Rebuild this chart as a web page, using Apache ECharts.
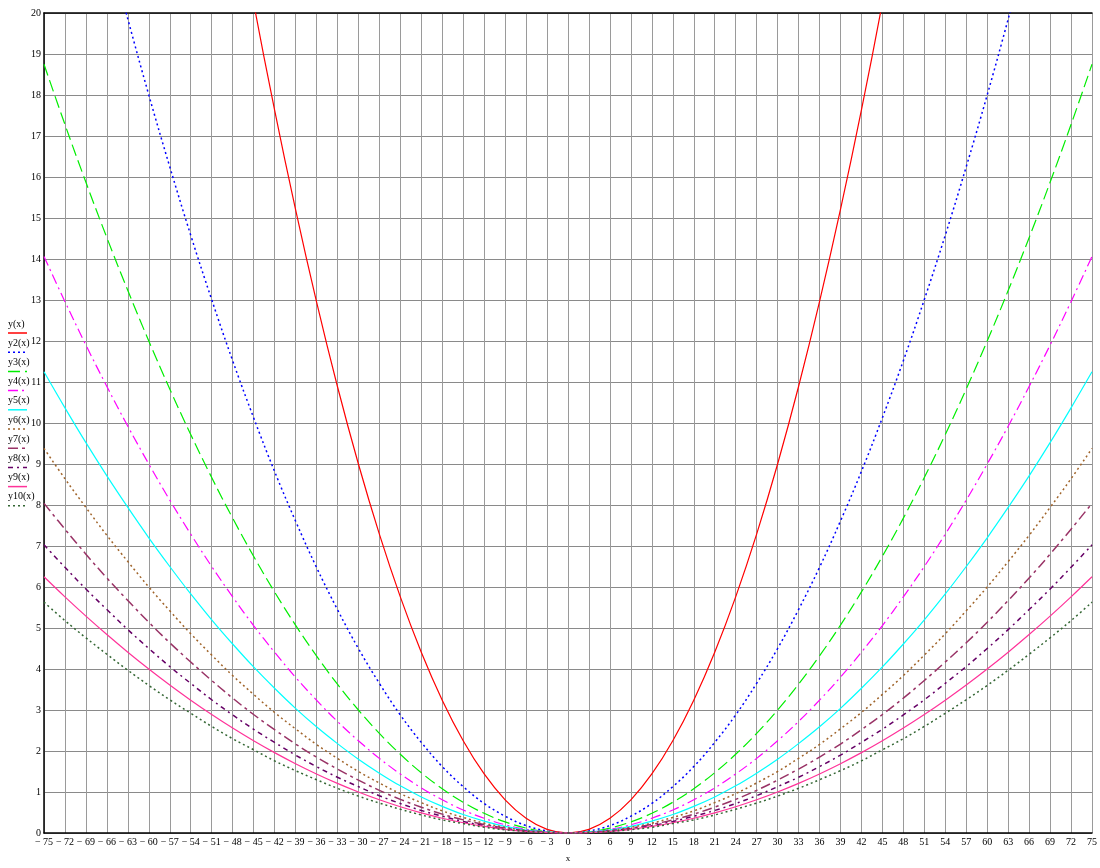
<!DOCTYPE html>
<html>
<head>
<meta charset="utf-8">
<script src="https://cdn.jsdelivr.net/npm/echarts@6/dist/echarts.min.js"></script>
<style>html,body{margin:0;padding:0;background:#fff;overflow:hidden}#c{width:1100px;height:868px}</style>
</head>
<body>
<div id="c"></div>
<script>
// sample x positions (every 3 units)
var xs = [-75,-72,-69,-66,-63,-60,-57,-54,-51,-48,-45,-42,-39,-36,-33,-30,-27,-24,-21,-18,-15,-12,-9,-6,-3,0,3,6,9,12,15,18,21,24,27,30,33,36,39,42,45,48,51,54,57,60,63,66,69,72,75];
var names = ['y(x)','y2(x)','y3(x)','y4(x)','y5(x)','y6(x)','y7(x)','y8(x)','y9(x)','y10(x)'];
var y1  = [null,null,null,null,null,null,null,null,null,23.04,20.25,17.64,15.21,12.96,10.89,9,7.29,5.76,4.41,3.24,2.25,1.44,0.81,0.36,0.09,0,0.09,0.36,0.81,1.44,2.25,3.24,4.41,5.76,7.29,9,10.89,12.96,15.21,17.64,20.25,23.04,null,null,null,null,null,null,null,null,null];
var y2  = [null,null,null,21.78,19.85,18,16.25,14.58,13.01,11.52,10.13,8.82,7.61,6.48,5.45,4.5,3.65,2.88,2.21,1.62,1.13,0.72,0.41,0.18,0.05,0,0.05,0.18,0.41,0.72,1.13,1.62,2.21,2.88,3.65,4.5,5.45,6.48,7.61,8.82,10.13,11.52,13.01,14.58,16.25,18,19.85,21.78,null,null,null];
var y3  = [18.75,17.28,15.87,14.52,13.23,12,10.83,9.72,8.67,7.68,6.75,5.88,5.07,4.32,3.63,3,2.43,1.92,1.47,1.08,0.75,0.48,0.27,0.12,0.03,0,0.03,0.12,0.27,0.48,0.75,1.08,1.47,1.92,2.43,3,3.63,4.32,5.07,5.88,6.75,7.68,8.67,9.72,10.83,12,13.23,14.52,15.87,17.28,18.75];
var y4  = [14.06,12.96,11.9,10.89,9.92,9,8.12,7.29,6.5,5.76,5.06,4.41,3.8,3.24,2.72,2.25,1.82,1.44,1.1,0.81,0.56,0.36,0.2,0.09,0.02,0,0.02,0.09,0.2,0.36,0.56,0.81,1.1,1.44,1.82,2.25,2.72,3.24,3.8,4.41,5.06,5.76,6.5,7.29,8.12,9,9.92,10.89,11.9,12.96,14.06];
var y5  = [11.25,10.37,9.52,8.71,7.94,7.2,6.5,5.83,5.2,4.61,4.05,3.53,3.04,2.59,2.18,1.8,1.46,1.15,0.88,0.65,0.45,0.29,0.16,0.07,0.02,0,0.02,0.07,0.16,0.29,0.45,0.65,0.88,1.15,1.46,1.8,2.18,2.59,3.04,3.53,4.05,4.61,5.2,5.83,6.5,7.2,7.94,8.71,9.52,10.37,11.25];
var y6  = [9.38,8.64,7.94,7.26,6.62,6,5.42,4.86,4.34,3.84,3.38,2.94,2.54,2.16,1.82,1.5,1.22,0.96,0.74,0.54,0.38,0.24,0.14,0.06,0.02,0,0.02,0.06,0.14,0.24,0.38,0.54,0.74,0.96,1.22,1.5,1.82,2.16,2.54,2.94,3.38,3.84,4.34,4.86,5.42,6,6.62,7.26,7.94,8.64,9.38];
var y7  = [8.04,7.41,6.8,6.22,5.67,5.14,4.64,4.17,3.72,3.29,2.89,2.52,2.17,1.85,1.56,1.29,1.04,0.82,0.63,0.46,0.32,0.21,0.12,0.05,0.01,0,0.01,0.05,0.12,0.21,0.32,0.46,0.63,0.82,1.04,1.29,1.56,1.85,2.17,2.52,2.89,3.29,3.72,4.17,4.64,5.14,5.67,6.22,6.8,7.41,8.04];
var y8  = [7.03,6.48,5.95,5.45,4.96,4.5,4.06,3.65,3.25,2.88,2.53,2.21,1.9,1.62,1.36,1.13,0.91,0.72,0.55,0.41,0.28,0.18,0.1,0.05,0.01,0,0.01,0.05,0.1,0.18,0.28,0.41,0.55,0.72,0.91,1.13,1.36,1.62,1.9,2.21,2.53,2.88,3.25,3.65,4.06,4.5,4.96,5.45,5.95,6.48,7.03];
var y9  = [6.25,5.76,5.29,4.84,4.41,4,3.61,3.24,2.89,2.56,2.25,1.96,1.69,1.44,1.21,1,0.81,0.64,0.49,0.36,0.25,0.16,0.09,0.04,0.01,0,0.01,0.04,0.09,0.16,0.25,0.36,0.49,0.64,0.81,1,1.21,1.44,1.69,1.96,2.25,2.56,2.89,3.24,3.61,4,4.41,4.84,5.29,5.76,6.25];
var y10 = [5.63,5.18,4.76,4.36,3.97,3.6,3.25,2.92,2.6,2.3,2.03,1.76,1.52,1.3,1.09,0.9,0.73,0.58,0.44,0.32,0.23,0.14,0.08,0.04,0.01,0,0.01,0.04,0.08,0.14,0.23,0.32,0.44,0.58,0.73,0.9,1.09,1.3,1.52,1.76,2.03,2.3,2.6,2.92,3.25,3.6,3.97,4.36,4.76,5.18,5.63];
var allY = [y1,y2,y3,y4,y5,y6,y7,y8,y9,y10];

var styles = [
  {color:'#ff0000', type:'solid', width:1.2},
  {color:'#0000ff', type:[2,3], width:1.5},
  {color:'#00ee00', type:[12,5], width:1.2},
  {color:'#ff00ff', type:[10,4,2,4], width:1.2},
  {color:'#00ffff', type:'solid', width:1.2},
  {color:'#a0642a', type:[2,3], width:1.5},
  {color:'#993366', type:[10,4,3,4], width:1.5},
  {color:'#660066', type:[5,4,2,4], width:1.5},
  {color:'#ff3399', type:'solid', width:1.2},
  {color:'#336633', type:[2,3], width:1.5}
];

var serif = '"Liberation Serif","DejaVu Serif",serif';

var series = names.map(function(n,i){
  return {
    name:n, type:'line', smooth:0.4, showSymbol:false, symbol:'none',
    clip:true, animation:false,
    lineStyle:{color:styles[i].color, type:styles[i].type, width:styles[i].width},
    data: xs.map(function(x,j){ return [x, allY[i][j]]; })
  };
});

var graphics = [];
names.forEach(function(n,i){
  var ty = 325 + 19.2*i;
  graphics.push({type:'text', left:8, top:ty-6, style:{text:n, font:'10px '+serif, fill:'#000'}});
  graphics.push({type:'line', shape:{x1:8,y1:ty+8,x2:27,y2:ty+8},
    style:{stroke:styles[i].color, lineWidth:1.5, lineDash: styles[i].type==='solid'?null:styles[i].type}});
});

function fmt(v){ return v<0 ? '\u2212 ' + Math.abs(v) : String(v); }

var chart = echarts.init(document.getElementById('c'));
chart.setOption({
  backgroundColor:'#fff',
  animation:false,
  grid:{left:44, top:13, width:1058, height:830, containLabel:false},
  xAxis:[{
    type:'value', min:-75, max:75, interval:3,
    name:'x', nameLocation:'middle', nameGap:21,
    nameTextStyle:{fontFamily:serif, fontSize:9, color:'#000'},
    axisLine:{show:true, onZero:false, lineStyle:{color:'#000', width:1.5}},
    axisTick:{show:false},
    axisLabel:{formatter:fmt, fontFamily:serif, fontSize:10, color:'#000', margin:4, showMaxLabel:true, hideOverlap:false},
    splitLine:{show:true, lineStyle:{color:'#9a9a9a', width:1}}
  },{
    type:'value', position:'top', min:-75, max:75,
    axisLine:{show:true, onZero:false, lineStyle:{color:'#000', width:1.5}},
    axisTick:{show:false}, axisLabel:{show:false}, splitLine:{show:false}
  }],
  yAxis:{
    type:'value', min:0, max:20, interval:1,
    axisLine:{show:true, onZero:false, lineStyle:{color:'#000', width:1.5}},
    axisTick:{show:false},
    axisLabel:{fontFamily:serif, fontSize:10, color:'#000', margin:3},
    splitLine:{show:true, lineStyle:{color:'#8a8a8a', width:1}}
  },
  graphic: graphics,
  series: series
});
</script>
</body>
</html>
